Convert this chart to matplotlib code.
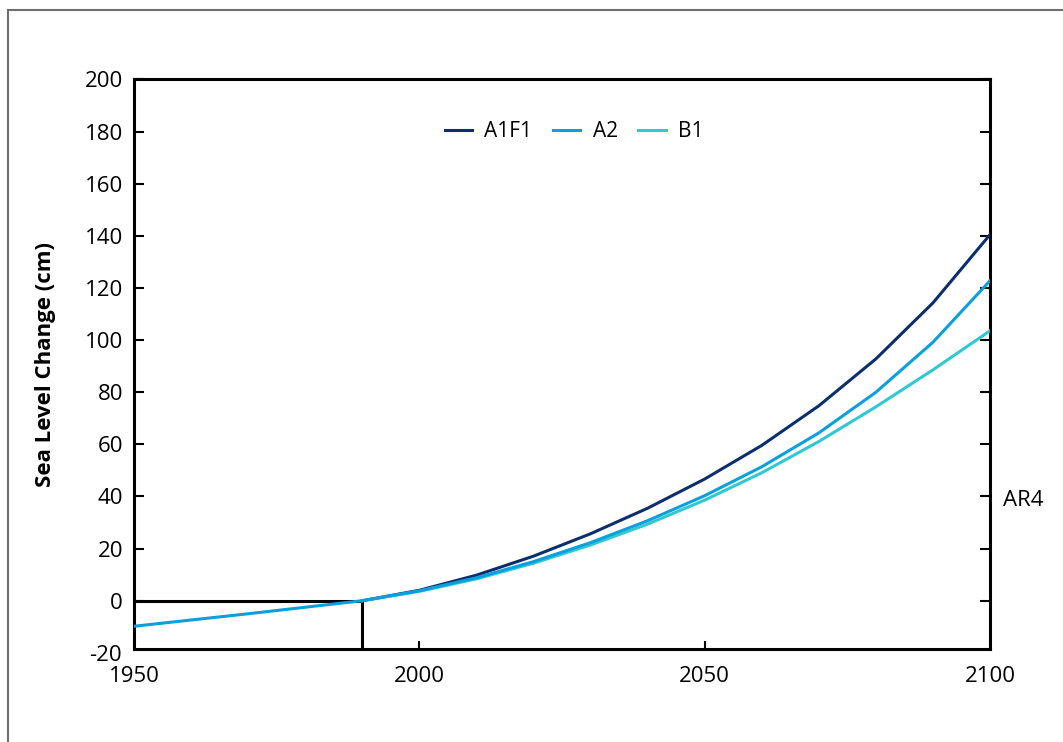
import matplotlib
matplotlib.use("Agg")
import matplotlib.pyplot as plt
from matplotlib.patches import Rectangle

# historical part (shared by all scenarios)
hist_years = [1950, 1960, 1970, 1980, 1990]
hist_cm = [-9.8, -7.4, -5.0, -2.5, 0.0]

# projections
years = [1990, 2000, 2010, 2020, 2030, 2040, 2050, 2060, 2070, 2080, 2090, 2100]
a1f1 = [0.0, 4.0, 9.8, 17.1, 25.7, 35.5, 46.7, 59.6, 74.8, 92.8, 114.3, 140.5]
a2 = [0.0, 3.8, 8.8, 15.0, 22.3, 30.7, 40.3, 51.4, 64.4, 80.0, 99.2, 122.8]
b1 = [0.0, 3.6, 8.4, 14.4, 21.4, 29.4, 38.6, 49.1, 61.1, 74.4, 88.6, 103.6]

series_names = ["A1F1", "A2", "B1"]
colors = {"A1F1": "#0c2e6c", "A2": "#0a9fdd", "B1": "#30c8d2"}

xticks = [1950, 2000, 2050, 2100]
yticks = list(range(0, 201, 20))

plt.rcParams['font.family'] = ['Open Sans', 'DejaVu Sans']

fig = plt.figure(figsize=(10.63, 7.42), dpi=100)
# outer frame of the original figure (cut off on right and bottom)
fig.patches.append(Rectangle((8 / 1063, -0.1), 1.2, 1 - 10 / 742 + 0.1,
                             transform=fig.transFigure, fill=False,
                             edgecolor="#6e6e6e", linewidth=1.5))

ax = fig.add_axes([0.1261, 0.1249, 0.8053, 0.768])

# reference lines at 1990 / 0 cm
ax.plot([1950, 1990], [0, 0], color="black", lw=2.2, zorder=2)
ax.plot([1990, 1990], [-18.65, 0], color="black", lw=2.2, zorder=2)

lines = {}
lines["A1F1"], = ax.plot(years, a1f1, color=colors["A1F1"], lw=2.2, zorder=3)
lines["B1"], = ax.plot(years, b1, color=colors["B1"], lw=2.2, zorder=3)
lines["A2"], = ax.plot(years, a2, color=colors["A2"], lw=2.2, zorder=4)
ax.plot(hist_years, hist_cm, color=colors["A2"], lw=2.2, zorder=4)

ax.set_xlim(1950, 2100)
ax.set_ylim(-18.65, 200)
ax.set_xticks(xticks)
ax.set_yticks(yticks)

for s in ax.spines.values():
    s.set_linewidth(2.2)
    s.set_color("black")

ax.tick_params(axis="y", which="both", direction="in", length=7, width=1.5,
               left=True, right=True, labelsize=16, pad=8)
ax.tick_params(axis="x", direction="in", length=6, width=1.5,
               top=False, labelsize=16, pad=12)

# -20 label sits just under the bottom spine
ax.text(-0.0145, -20.9, "-20", transform=ax.get_yaxis_transform(),
        ha="right", va="center", fontsize=16)

ax.set_ylabel("Sea Level Change (cm)", fontsize=16, fontweight="bold")
ax.yaxis.set_label_coords(-0.091, 0.5)

ax.legend([lines[n] for n in series_names], series_names, loc="center",
          bbox_to_anchor=(0.514, 0.909), ncol=3, frameon=False, fontsize=15,
          handlelength=1.3, handletextpad=0.6, columnspacing=1.0)

fig.text(1003 / 1063, 1 - 500 / 742, "AR4", fontsize=16, ha="left", va="center")

fig.savefig("out.png", dpi=100)
